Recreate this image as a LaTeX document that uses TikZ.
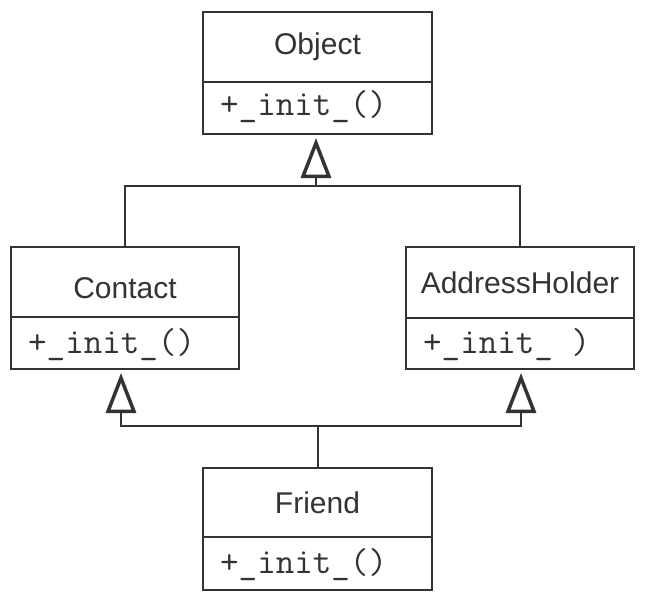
\documentclass[tikz,border=0pt]{standalone}
\usepackage{fontspec}
\setmainfont{Liberation Sans}
\usetikzlibrary{arrows.meta}
\definecolor{ink}{HTML}{333333}
\tikzset{
  box/.style={draw=ink, line width=2pt, inner sep=0pt, minimum width=228pt, minimum height=122pt},
  divline/.style={draw=ink, line width=2pt},
  title/.style={anchor=base, inner sep=0pt, text=ink, font=\fontsize{30}{36}\selectfont},
  oper/.style={anchor=base west, inner sep=0pt, text=ink, font=\ttfamily\fontsize{36}{40}\selectfont},
  conn/.style={draw=ink, line width=2pt, line cap=rect},
  inh/.style={conn, line cap=butt, shorten >=3pt, -{Triangle[open, length=40pt, width=30pt, line width=3.5pt]}}
}
\begin{document}
\begin{tikzpicture}[x=1pt, y=-1pt]
\useasboundingbox (0,0) rectangle (645,602);
% boxes
\node[box, minimum width=229pt] (obj) at (317.5,73) {};
\node[box] (con) at (125,308) {};
\node[box] (adr) at (520,308) {};
\node[box, minimum width=229pt] (fri) at (317.5,529) {};
% dividers
\draw[divline] (obj.west |- 0,82) -- (obj.east |- 0,82);
\draw[divline] (con.west |- 0,317) -- (con.east |- 0,317);
\draw[divline] (adr.west |- 0,318) -- (adr.east |- 0,318);
\draw[divline] (fri.west |- 0,537) -- (fri.east |- 0,537);
% texts
\node[title] (objt) at (317.5,55) {Object};
\node[title] (cont) at (125,298) {Contact};
\node[title] (adrt) at (520,293) {AddressHolder};
\node[title] (frit) at (317.5,513) {Friend};
\node[oper] (objo) at (220,115) {+\_init\_()};
\node[oper] (cono) at (28,353) {+\_init\_()};
\node[oper] (adro) at (423,353) {+\_init\_ )};
\node[oper] (frio) at (220,573) {+\_init\_()};
% connectors
\coordinate (top) at (316,186);
\coordinate (bot) at (fri.north |- 0,426);
\coordinate (bl) at (121,426);
\coordinate (br) at (521,426);
\draw[conn] (con.north) |- (top) -| (adr.north);
\draw[inh] (top) -- (top |- obj.south);
\draw[conn] (fri.north) -- (bot);
\draw[inh] (bot) -| (bl |- con.south);
\draw[inh] (bot) -| (br |- adr.south);
\end{tikzpicture}
\end{document}
